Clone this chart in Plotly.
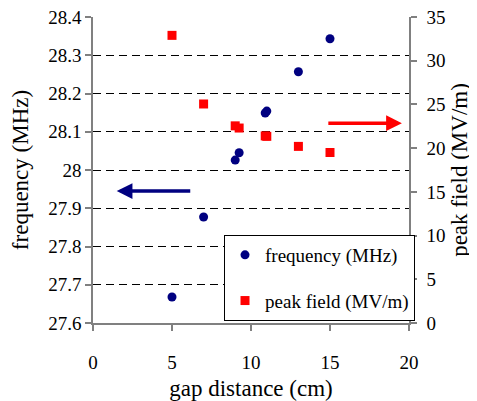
import plotly.graph_objects as go

gap_cm = [5, 7, 9, 9.25, 10.9, 11, 13, 15]
frequency_mhz = [27.668, 27.877, 28.026, 28.045, 28.149, 28.154, 28.257, 28.343]
peak_field = [32.9, 25.05, 22.55, 22.3, 21.4, 21.35, 20.2, 19.5]

freq_ticks = [27.6, 27.7, 27.8, 27.9, 28.0, 28.1, 28.2, 28.3, 28.4]
freq_tick_labels = ["27.6", "27.7", "27.8", "27.9", "28", "28.1", "28.2", "28.3", "28.4"]
field_ticks = [0, 5, 10, 15, 20, 25, 30, 35]
x_ticks = [0, 5, 10, 15, 20]

FONT = "Liberation Serif"
FS = 19
AXIS_COLOR = "#808080"

fig = go.Figure()
fig.add_trace(go.Scatter(
    x=gap_cm, y=frequency_mhz, mode="markers", name="frequency (MHz)",
    legendgroup="a",
    marker=dict(symbol="circle", size=9, color="#000080"),
))
fig.add_trace(go.Scatter(
    x=gap_cm, y=peak_field, mode="markers", name="peak field (MV/m)",
    legendgroup="b", yaxis="y2",
    marker=dict(symbol="square", size=9, color="#FF0000"),
))

fig.add_annotation(x=1.5, y=27.945, ax=6.25, ay=27.945, xref="x", yref="y",
                   axref="x", ayref="y", showarrow=True, text="",
                   arrowhead=2, arrowsize=0.9, arrowwidth=3.5, arrowcolor="#000080")
fig.add_annotation(x=19.55, y=22.85, ax=14.8, ay=22.85, xref="x", yref="y2",
                   axref="x", ayref="y2", showarrow=True, text="",
                   arrowhead=2, arrowsize=0.9, arrowwidth=3.5, arrowcolor="#FF0000")

fig.update_layout(
    width=469, height=393,
    margin=dict(l=85, r=68, t=9, b=78, autoexpand=False),
    paper_bgcolor="white", plot_bgcolor="white",
    font=dict(family=FONT, size=FS, color="black"),
    showlegend=True,
    legend=dict(
        x=0.4146, y=0.2876, xanchor="left", yanchor="top",
        bordercolor="black", borderwidth=1, bgcolor="white",
        font=dict(family=FONT, size=FS), tracegroupgap=18,
        itemwidth=30,
    ),
    xaxis=dict(
        range=[0, 20], tickvals=x_ticks, showgrid=False, zeroline=False,
        showline=True, linecolor=AXIS_COLOR, linewidth=1.5,
        ticks="outside", ticklen=6, tickcolor=AXIS_COLOR, tickwidth=1.5,
        ticklabelstandoff=15, automargin=False,
        title=dict(text="gap distance (cm)", standoff=10),
    ),
    yaxis=dict(
        range=[27.6, 28.4], tickvals=freq_ticks, ticktext=freq_tick_labels,
        showgrid=True, gridcolor="black", gridwidth=1, griddash="8px,5px",
        zeroline=False, showline=True, linecolor=AXIS_COLOR, linewidth=1.5,
        ticks="outside", ticklen=6, tickcolor=AXIS_COLOR, tickwidth=1.5,
        ticklabeloverflow="allow", automargin=False,
        title=dict(text="frequency (MHz)", standoff=14),
    ),
    yaxis2=dict(
        range=[0, 35], tickvals=field_ticks, overlaying="y", side="right",
        showgrid=False, zeroline=False, showline=True, linecolor=AXIS_COLOR,
        linewidth=1.5, ticks="outside", ticklen=6, tickcolor=AXIS_COLOR,
        tickwidth=1.5, ticklabelstandoff=6, ticklabeloverflow="allow",
        automargin=False,
        title=dict(text="peak field (MV/m)", standoff=6),
    ),
)

fig.write_html("out.html")
